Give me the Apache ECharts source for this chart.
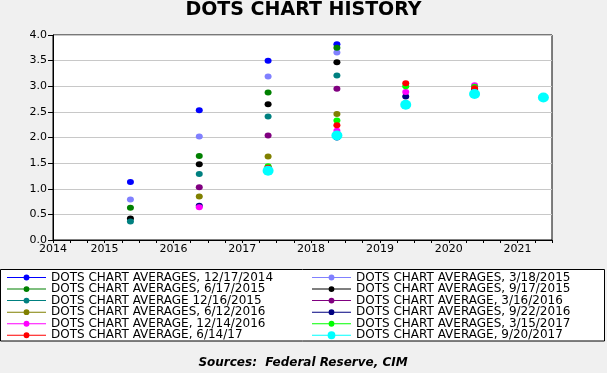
<!DOCTYPE html>
<html>
<head>
<meta charset="utf-8">
<script src="https://cdn.jsdelivr.net/npm/echarts@6/dist/echarts.min.js"></script>
<style>
html,body{margin:0;padding:0;background:#f0f0f0;}
#c{width:607px;height:373px;}
</style>
</head>
<body>
<div id="c"></div>
<script>
// Observation periods (projection year, plotted at its 4th quarter)
const periods = ["2015Q4", "2016Q4", "2017Q4", "2018Q4", "2019Q4", "2020Q4", "2021Q4"];

const seriesNames = [
  "DOTS CHART AVERAGES, 12/17/2014",
  "DOTS CHART AVERAGES, 3/18/2015",
  "DOTS CHART AVERAGES, 6/17/2015",
  "DOTS CHART AVERAGES, 9/17/2015",
  "DOTS CHART AVERAGE 12/16/2015",
  "DOTS CHART AVERAGE, 3/16/2016",
  "DOTS CHART AVERAGES, 6/12/2016",
  "DOTS CHART AVERAGES, 9/22/2016",
  "DOTS CHART AVERAGE, 12/14/2016",
  "DOTS CHART AVERAGES, 3/15/2017",
  "DOTS CHART AVERAGE, 6/14/17",
  "DOTS CHART AVERAGE, 9/20/2017"
];

const dec2014 = [1.13, 2.53, 3.50, 3.82, null, null, null];
const mar2015 = [0.79, 2.02, 3.19, 3.66, null, null, null];
const jun2015 = [0.63, 1.64, 2.88, 3.75, null, null, null];
const sep2015 = [0.42, 1.48, 2.65, 3.47, null, null, null];
const dec2015 = [0.36, 1.29, 2.41, 3.21, null, null, null];
const mar2016 = [null, 1.03, 2.04, 2.95, null, null, null];
const jun2016 = [null, 0.85, 1.63, 2.46, null, null, null];
const sep2016 = [null, 0.67, 1.40, 2.00, 2.80, 2.93, null];
const dec2016 = [null, 0.64, 1.42, 2.13, 2.89, 3.02, null];
const mar2017 = [null, null, 1.44, 2.33, 3.00, 2.99, null];
const jun2017 = [null, null, 1.41, 2.24, 3.06, 2.96, null];
const sep2017 = [null, null, 1.35, 2.04, 2.64, 2.85, 2.78];

const yTicks = ["0.0", "0.5", "1.0", "1.5", "2.0", "2.5", "3.0", "3.5", "4.0"];
const xYears = ["2014", "2015", "2016", "2017", "2018", "2019", "2020", "2021"];

const allValues = [dec2014, mar2015, jun2015, sep2015, dec2015, mar2016, jun2016, sep2016, dec2016, mar2017, jun2017, sep2017];
const colors = ["#0000ff", "#8080ff", "#008000", "#000000", "#008080", "#800080",
                "#808000", "#000080", "#ff00ff", "#00ff00", "#ff0000", "#00ffff"];

function periodToX(p) {
  const y = parseInt(p.slice(0, 4), 10);
  const q = parseInt(p.slice(5), 10);
  return y + (q - 0.5) / 4;
}

const iconSmall = 'path://M0,0h0.01v0.01z M0,7.99h0.01v0.01z M0,3.5h40v1h-40z M17,4a3,3 0 1,1 6,0a3,3 0 1,1 -6,0z';
const iconBig = 'path://M0,0h0.01v0.01z M0,7.99h0.01v0.01z M0,3.5h40v1h-40z M16,4a4,4 0 1,1 8,0a4,4 0 1,1 -8,0z';

const series = allValues.map((vals, i) => ({
  name: seriesNames[i],
  type: 'scatter',
  symbol: 'circle',
  symbolSize: i === 11 ? [11, 10] : [7, 6],
  itemStyle: { color: colors[i], opacity: 1 },
  emphasis: { disabled: true },
  data: vals.map((v, k) => v == null ? null : [periodToX(periods[k]), v]).filter(d => d)
}));

const legendText = { fontFamily: 'DejaVu Sans', fontSize: 12, color: '#000', lineHeight: 11 };
function legendCol(idxs, left) {
  return {
    orient: 'vertical', left: left, top: 271.5, padding: 0,
    itemWidth: 39, itemHeight: 8, itemGap: -0.45,
    selectedMode: false,
    textStyle: legendText,
    data: idxs.map(i => ({ name: seriesNames[i], icon: i === 11 ? iconBig : iconSmall }))
  };
}

const chart = echarts.init(document.getElementById('c'), null, { renderer: 'canvas' });
chart.setOption({
  backgroundColor: '#f0f0f0',
  animation: false,
  title: {
    text: 'DOTS CHART HISTORY', left: 'center', top: 1, padding: 0,
    textStyle: { fontFamily: 'DejaVu Sans', fontSize: 19, fontWeight: 'bold', color: '#000' }
  },
  grid: {
    left: 53, right: 55, top: 35, bottom: 133,
    show: true, backgroundColor: '#ffffff', borderColor: '#000', borderWidth: 1
  },
  xAxis: {
    type: 'value', min: 2014.75, max: 2022, interval: 0.25,
    axisLine: { show: true, lineStyle: { color: '#000', width: 1 } },
    axisTick: { show: true, length: 3, lineStyle: { color: '#000' } },
    splitLine: { show: false },
    axisLabel: {
      fontFamily: 'DejaVu Sans', fontSize: 11, color: '#000', margin: 4,
      formatter: function (v) {
        if (Math.abs(v - 2014.75) < 1e-6) return xYears[0];
        const f = v - Math.floor(v);
        if (Math.abs(f - 0.5) < 1e-6) {
          const idx = xYears.indexOf(String(Math.floor(v)));
          return idx >= 0 ? xYears[idx] : '';
        }
        return '';
      }
    }
  },
  yAxis: {
    type: 'value', min: 0, max: 4, interval: 0.5,
    axisLine: { show: true, lineStyle: { color: '#000', width: 1 } },
    axisTick: { show: true, length: 5, lineStyle: { color: '#000' } },
    splitLine: { show: true, lineStyle: { color: '#c8c8c8', width: 1 } },
    axisLabel: {
      fontFamily: 'DejaVu Sans', fontSize: 11, color: '#000', margin: 6,
      formatter: function (v) { return yTicks[Math.round(v / 0.5)]; }
    }
  },
  legend: [legendCol([0, 2, 4, 6, 8, 10], 7), legendCol([1, 3, 5, 7, 9, 11], 312)],
  graphic: [
    {
      type: 'rect', z: -1, silent: true,
      shape: { x: 0.5, y: 269.5, width: 604, height: 71.5 },
      style: { fill: '#ffffff', stroke: '#000', lineWidth: 1 }
    },
    {
      type: 'text', silent: true, x: 303, y: 363,
      style: {
        text: 'Sources:  Federal Reserve, CIM', fill: '#000',
        font: 'italic bold 12px "DejaVu Sans"', textAlign: 'center', textVerticalAlign: 'middle'
      }
    }
  ],
  series: series
});
</script>
</body>
</html>
